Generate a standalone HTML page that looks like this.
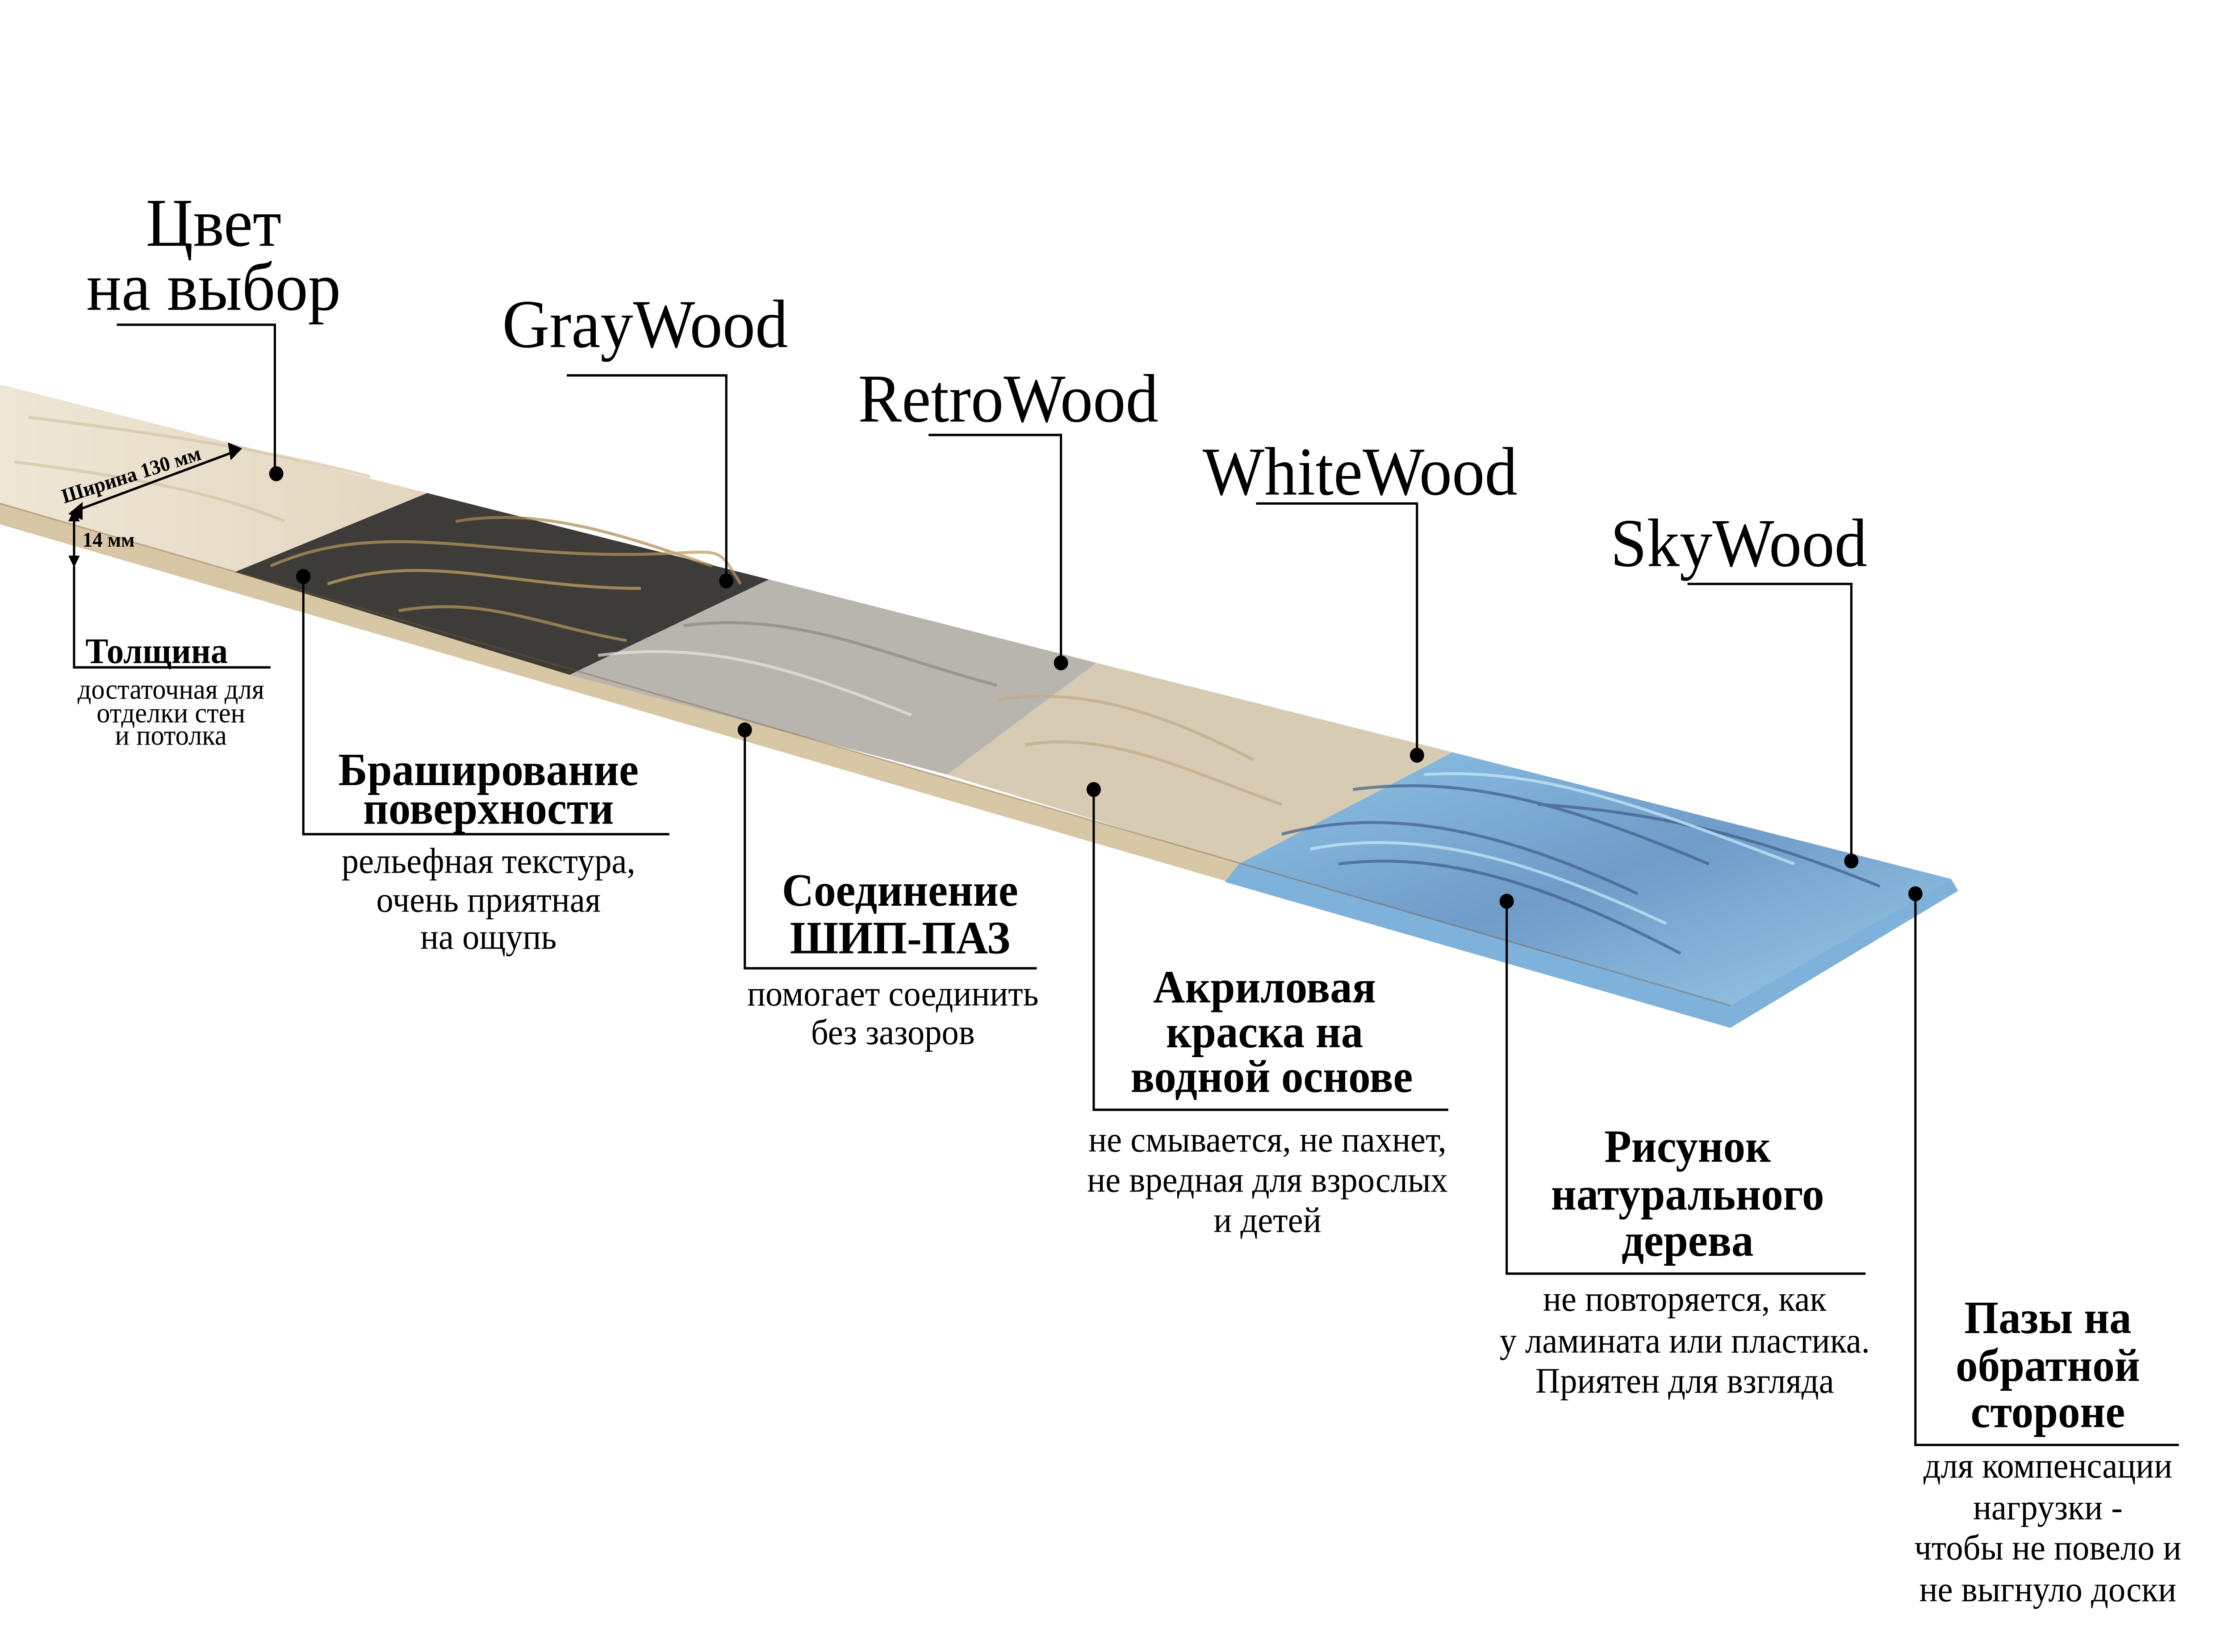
<!DOCTYPE html>
<html><head><meta charset="utf-8">
<style>html,body{margin:0;padding:0;background:#fff;overflow:hidden;width:100%;height:100%;}svg{display:block;position:fixed;left:0;top:0;width:100vw;height:100vh;}</style>
</head><body>
<svg viewBox="0 0 1568 1109" preserveAspectRatio="none" xmlns="http://www.w3.org/2000/svg">
<rect width="1568" height="1109" fill="#fff"/>
<defs>
<linearGradient id="nat" x1="0" y1="0" x2="1" y2="0"><stop offset="0" stop-color="#efe6d6"/><stop offset="1" stop-color="#e3d6bf"/></linearGradient>
<linearGradient id="blue" x1="0" y1="0" x2="1" y2="1"><stop offset="0" stop-color="#8fc3e6"/><stop offset="0.5" stop-color="#6f9cc8"/><stop offset="1" stop-color="#9ccbe9"/></linearGradient>
</defs>
<polygon points="0,338 1215,675 1370,590 1375,598 1215,690 0,352" fill="#d8c7a4"/>
<polygon points="870,580 1215,675 1370,590 1375,598 1215,690 860,592" fill="#7fb2da"/>
<polygon points="0,258 300,331 165,384 0,338" fill="url(#nat)"/>
<polygon points="300,331 540,389 400,453 165,384" fill="#3e3c38"/>
<polygon points="540,389 770,445 665,520 400,453" fill="#b8b5ae"/>
<polygon points="770,445 1020,505 870,580 665,520" fill="#d8cbb3"/>
<polygon points="1020,505 1370,590 1215,675 870,580" fill="url(#blue)"/>
<g fill="none" stroke-width="2" opacity="0.7">
<path d="M190,380 C260,350 330,370 420,372 S500,360 520,392" stroke="#b89a5c"/>
<path d="M230,392 C300,370 360,395 450,395" stroke="#c9a864"/>
<path d="M320,350 C380,340 440,360 500,380" stroke="#a98a50"/>
<path d="M280,410 C340,400 380,420 440,430" stroke="#b89a5c"/>
<path d="M420,440 C500,430 560,450 640,480" stroke="#e8e6e0"/>
<path d="M480,420 C560,410 620,440 700,460" stroke="#8e8a83"/>
<path d="M700,470 C760,460 820,480 880,510 M720,500 C780,490 840,520 900,540" stroke="#bfa985"/>
<path d="M900,560 C980,540 1060,560 1150,600 M950,530 C1030,520 1100,540 1200,580 M1080,540 C1160,545 1230,560 1320,595 M940,580 C1020,570 1100,600 1180,640" stroke="#3f5e88"/>
<path d="M920,570 C1000,555 1080,580 1170,620 M1000,520 C1080,515 1150,540 1260,580" stroke="#c9ecfb"/>
<path d="M20,280 C100,290 180,300 260,320 M10,310 C90,320 150,330 200,350" stroke="#d4c4a4"/>
</g>
<g fill="none" stroke="#7a5a3a" stroke-width="1" opacity="0.4"><line x1="0" y1="338" x2="1215" y2="675"/></g>

<g stroke="#000" stroke-width="1.6" fill="none">
<polyline points="82,218 193,218 193,318"/>
<polyline points="398,252 510,252 510,390"/>
<polyline points="652,292 745,292 745,445"/>
<polyline points="882,338 995,338 995,507"/>
<polyline points="1185,392 1300,392 1300,578"/>
<polyline points="213,387 213,560 470,560"/>
<polyline points="523,490 523,650 728,650"/>
<polyline points="768,530 768,745 1017,745"/>
<polyline points="1058,605 1058,855 1310,855"/>
<polyline points="1345,600 1345,970 1530,970"/>
<polyline points="52,380 52,448 190,448"/>
<line x1="52" y1="346" x2="52" y2="378"/>
<line x1="50" y1="344" x2="168" y2="302"/>
</g>
<g fill="#000">
<circle cx="194" cy="318" r="5"/><circle cx="510" cy="390" r="5"/><circle cx="745" cy="445" r="5"/>
<circle cx="995" cy="507" r="5"/><circle cx="1300" cy="578" r="5"/><circle cx="213" cy="387" r="5"/>
<circle cx="523" cy="490" r="5"/><circle cx="768" cy="530" r="5"/><circle cx="1058" cy="605" r="5"/>
<circle cx="1345" cy="600" r="5"/>
<polygon points="48,345 58,337 58,349"/><polygon points="170,301 160,297 162,309"/>
<polygon points="52,342 48,350 56,350"/><polygon points="52,381 48,373 56,373"/>
</g>

<g font-family="Liberation Serif, serif" fill="#000">
<g font-size="46" text-anchor="middle">
<text x="150" y="165">Цвет</text><text x="150" y="208">на выбор</text>
<text x="453" y="233">GrayWood</text><text x="708" y="283">RetroWood</text>
<text x="955" y="332">WhiteWood</text><text x="1221" y="380">SkyWood</text>
</g>
<text x="45" y="338" font-size="14" font-weight="bold" transform="rotate(-17 45 338)">Ширина 130 мм</text>
<text x="58" y="367" font-size="14" font-weight="bold">14 мм</text>
<text x="60" y="445" font-size="24" font-weight="bold">Толщина</text>
<g font-size="19" text-anchor="middle"><text x="120" y="469">достаточная для</text><text x="120" y="485">отделки стен</text><text x="120" y="500">и потолка</text></g>
<g font-size="31" font-weight="bold" text-anchor="middle">
<text x="343" y="527">Браширование</text><text x="343" y="553">поверхности</text>
<text x="632" y="608">Соединение</text><text x="632" y="640">ШИП-ПАЗ</text>
<text x="888" y="673">Акриловая</text><text x="888" y="703">краска на</text><text x="893" y="733">водной основе</text>
<text x="1185" y="780">Рисунок</text><text x="1185" y="812">натурального</text><text x="1185" y="843">дерева</text>
<text x="1438" y="895">Пазы на</text><text x="1438" y="927">обратной</text><text x="1438" y="958">стороне</text>
</g>
<g font-size="24" text-anchor="middle">
<text x="343" y="586">рельефная текстура,</text><text x="343" y="612">очень приятная</text><text x="343" y="637">на ощупь</text>
<text x="627" y="675">помогает соединить</text><text x="627" y="701">без зазоров</text>
<text x="890" y="773">не смывается, не пахнет,</text><text x="890" y="800">не вредная для взрослых</text><text x="890" y="827">и детей</text>
<text x="1183" y="880">не повторяется, как</text><text x="1183" y="908">у ламината или пластика.</text><text x="1183" y="935">Приятен для взгляда</text>
<text x="1438" y="992">для компенсации</text><text x="1438" y="1020">нагрузки -</text><text x="1438" y="1047">чтобы не повело и</text><text x="1438" y="1075">не выгнуло доски</text>
</g>
</g>
</svg>
</body></html>
